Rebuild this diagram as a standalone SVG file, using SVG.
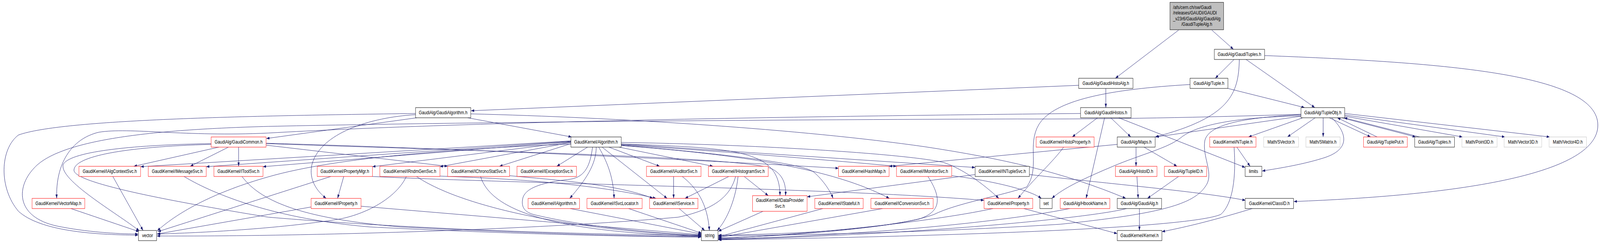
<svg xmlns="http://www.w3.org/2000/svg" width="5190" height="621" viewBox="0 0 5190 621" preserveAspectRatio="none">
<defs>
<marker id="a" markerWidth="10" markerHeight="7" refX="10" refY="3.5" orient="auto" markerUnits="userSpaceOnUse"><path d="M0,0 L10,3.5 L0,7 z" fill="#191970"/></marker>
</defs>
<style>
svg{width:100vw;height:100vh}
.n rect{fill:#fff;stroke:#000;stroke-width:1}
.red rect{stroke:#ff0000}
.gray rect{stroke:#bfbfbf}
.root rect{fill:#bfbfbf}
text{font-family:"Liberation Sans",Arial,sans-serif;font-size:13px;fill:#000;text-anchor:middle}
.l{text-anchor:start}
#edges path{fill:none;stroke:#191970;stroke-width:1;marker-end:url(#a)}
</style>
<rect width="5190" height="621" fill="#fff"/>
<g id="edges">
<path d="M3823,77 L3618,200"/>
<path d="M3931,77 L4001,126"/>
<path d="M3499,218 L1528,283"/>
<path d="M3587,226 L3587,275"/>
<path d="M4003,152 L3942,200"/>
<path d="M4042,152 L4265,275"/>
<path d="M4102,142 C4700,160 5183,190 5183,320 C5183,450 4700,500 4197,515"/>
<path d="M4020,152 C4018,240 3990,300 3747,350"/>
<path d="M3983,226 L4232,275"/>
<path d="M3860,216 C3600,228 3420,255 3370,318 C3330,370 3375,430 3330,478 C3250,500 3100,520 3030,548 C2900,585 2600,598 2330,601"/>
<path d="M1352,301 L864,354"/>
<path d="M1517,301 L1854,350"/>
<path d="M1348,290 C800,296 200,305 60,345 C0,380 -5,480 60,540 C130,590 300,600 448,601"/>
<path d="M1527,291 C2000,300 2600,330 3000,375 C3250,405 3450,440 3652,507"/>
<path d="M1348,293 C1200,300 1040,340 1012,420 C1000,460 1030,490 1058,507"/>
<path d="M3560,301 L3478,350"/>
<path d="M3583,301 L3523,507"/>
<path d="M3603,301 L3668,350"/>
<path d="M3629,301 L4039,428"/>
<path d="M3505,290 C2500,298 1500,312 870,340 C600,350 420,325 320,338 C230,355 180,420 184,507"/>
<path d="M4312,301 L4446,350"/>
<path d="M4467,350 L4338,301"/>
<path d="M4352,301 L4592,350"/>
<path d="M4605,350 L4360,301"/>
<path d="M4362,297 L4744,350"/>
<path d="M4362,294 L4882,350"/>
<path d="M4362,290 L5027,350"/>
<path d="M4292,301 L4292,350"/>
<path d="M4266,301 L4176,350"/>
<path d="M4226,301 L4050,350"/>
<path d="M4320,301 C4370,340 4380,380 4300,402 C4230,420 4150,430 4094,437"/>
<path d="M4220,297 L3749,350"/>
<path d="M4220,293 C4050,300 3920,315 3908,360 C3900,400 3935,440 3915,470 C3880,520 3780,545 3440,573 C3000,595 2600,600 2330,603"/>
<path d="M4220,296 C4000,300 3880,320 3830,352 C3790,378 3700,395 3610,425 C3520,455 3450,480 3412,507"/>
<path d="M4220,292 C3900,300 3600,305 3300,304 C2500,306 1500,312 870,323 C550,330 200,350 110,430 C50,480 50,560 200,580 C300,595 400,598 448,598"/>
<path d="M3624,369 L2884,425"/>
<path d="M3685,376 L3685,425"/>
<path d="M3711,376 L3818,425"/>
<path d="M710,376 L434,425"/>
<path d="M741,376 L617,425"/>
<path d="M774,376 L774,425"/>
<path d="M863,371 L1452,425"/>
<path d="M685,367 C450,370 230,385 205,420 C190,460 380,545 452,590"/>
<path d="M685,369 C400,375 240,400 240,435 C240,470 600,520 870,555 C1400,590 2000,600 2274,602"/>
<path d="M863,366 C1500,380 2300,410 2720,430"/>
<path d="M863,367 C1500,385 2400,400 2500,430 C2540,445 2550,470 2548,500"/>
<path d="M1852,360 L456,426"/>
<path d="M1852,361 L669,426"/>
<path d="M1852,362 L853,426"/>
<path d="M1852,363 L1208,426"/>
<path d="M1852,364 L1427,426"/>
<path d="M1852,367 L1620,425"/>
<path d="M1852,368 C1500,380 1100,400 870,452 C700,490 580,540 510,590"/>
<path d="M1906,376 L1806,425"/>
<path d="M1934,376 C1934,420 1900,460 1848,507"/>
<path d="M1942,376 C1975,420 1990,460 1992,507"/>
<path d="M1953,376 L2164,507"/>
<path d="M1975,376 L2140,425"/>
<path d="M2008,376 L2313,425"/>
<path d="M1922,376 C1915,420 1900,452 1850,458 C1760,466 1700,480 1695,510 C1690,535 1710,545 1740,550 C1900,580 2150,598 2274,601"/>
<path d="M2015,368 C2400,378 2530,385 2530,500"/>
<path d="M2015,370 C2400,390 2700,410 2908,425"/>
<path d="M2015,368 L3163,428"/>
<path d="M2015,371 C2300,390 2600,415 2640,440 C2670,460 2695,490 2702,507"/>
<path d="M2015,372 C2400,395 2700,430 2885,507"/>
<path d="M2015,364 C2500,370 2950,395 3060,415 C3120,430 3190,470 3240,507"/>
<path d="M3450,376 C3420,410 3350,460 3302,507"/>
<path d="M4012,376 L4055,425"/>
<path d="M4003,376 C4010,450 4000,520 3960,548 C3850,585 3000,605 2330,613"/>
<path d="M1115,451 L1095,507"/>
<path d="M1073,451 L512,592"/>
<path d="M1208,451 C1700,470 2700,480 3192,512"/>
<path d="M1427,450 C1600,455 1900,465 2128,507"/>
<path d="M1351,451 C1480,520 1800,585 2274,603"/>
<path d="M1318,451 C1290,500 1200,545 1100,560 C900,585 650,595 509,598"/>
<path d="M1653,449 C1800,460 2000,470 2118,507"/>
<path d="M1559,451 C1600,560 1900,595 2274,604"/>
<path d="M2185,451 L2185,507"/>
<path d="M2213,451 C2260,480 2295,520 2301,589"/>
<path d="M2364,451 L2222,507"/>
<path d="M2394,451 C2385,520 2350,570 2326,589"/>
<path d="M2414,451 L2492,500"/>
<path d="M2386,451 C2370,500 2320,535 2200,555 C1700,590 900,605 509,603"/>
<path d="M2475,540 L2330,591"/>
<path d="M2669,533 L2330,605"/>
<path d="M2863,533 L2330,607"/>
<path d="M3010,451 C3050,500 3060,540 2980,560 C2800,590 2500,605 2330,608"/>
<path d="M3087,449 C3180,458 3330,480 3378,507"/>
<path d="M3221,533 C3000,570 2600,600 2330,610"/>
<path d="M3321,533 L3624,597"/>
<path d="M3470,533 C3200,575 2700,605 2330,611"/>
<path d="M3696,533 L3696,589"/>
<path d="M3654,533 C3550,555 3000,600 2330,612"/>
<path d="M4062,533 C3950,560 3850,580 3769,592"/>
<path d="M3688,451 L3692,507"/>
<path d="M3823,451 L3722,507"/>
<path d="M3163,446 L2618,503"/>
<path d="M3339,446 C3600,470 3900,490 4040,512"/>
<path d="M366,451 L464,589"/>
<path d="M597,451 C700,500 900,560 1200,580 C1700,600 2100,605 2274,606"/>
<path d="M785,451 C850,520 1000,560 1300,580 C1800,600 2150,604 2274,605"/>
<path d="M230,533 L451,592"/>
<path d="M1171,527 L2275,600"/>
<path d="M1009,529 L510,598"/>
<path d="M2039,533 L2276,596"/>
<path d="M1850,533 L2275,598"/>
<path d="M2203,533 L2286,589"/>
</g>
<g id="n_root" class="n root"><rect x="3795" y="6" width="174" height="70"/><text class="l" x="3805" y="23">/afs/cern.ch/sw/Gaudi</text><text class="l" x="3805" y="37.5">/releases/GAUDI/GAUDI</text><text class="l" x="3805" y="52">_v23r6/GaudiAlg/GaudiAlg</text><text x="3882" y="66.5">/GaudiTupleAlg.h</text></g>
<g id="n_gaudituples" class="n"><rect x="3939" y="126" width="163" height="26"/><text x="4020.5" y="143.5">GaudiAlg/GaudiTuples.h</text></g>
<g id="n_gaudihistoalg" class="n"><rect x="3499" y="200" width="176" height="26"/><text x="3587" y="217.5">GaudiAlg/GaudiHistoAlg.h</text></g>
<g id="n_tuple" class="n"><rect x="3860" y="200" width="123" height="26"/><text x="3921.5" y="217.5">GaudiAlg/Tuple.h</text></g>
<g id="n_gaudihistos" class="n"><rect x="3505" y="275" width="164" height="26"/><text x="3587" y="292.5">GaudiAlg/GaudiHistos.h</text></g>
<g id="n_tupleobj" class="n"><rect x="4220" y="275" width="142" height="26"/><text x="4291" y="292.5">GaudiAlg/TupleObj.h</text></g>
<g id="n_gaudialgorithm" class="n"><rect x="1348" y="275" width="179" height="26"/><text x="1437.5" y="292.5">GaudiAlg/GaudiAlgorithm.h</text></g>
<g id="n_gaudicommon" class="n red"><rect x="685" y="350" width="178" height="26"/><text x="774" y="367.5">GaudiAlg/GaudiCommon.h</text></g>
<g id="n_algorithm" class="n"><rect x="1852" y="350" width="163" height="26"/><text x="1933.5" y="367.5">GaudiKernel/Algorithm.h</text></g>
<g id="n_histoproperty" class="n red"><rect x="3361" y="350" width="188" height="26"/><text x="3455" y="367.5">GaudiKernel/HistoProperty.h</text></g>
<g id="n_maps" class="n"><rect x="3624" y="350" width="123" height="26"/><text x="3685.5" y="367.5">GaudiAlg/Maps.h</text></g>
<g id="n_ntuple" class="n red"><rect x="3924" y="350" width="150" height="26"/><text x="3999" y="367.5">GaudiKernel/NTuple.h</text></g>
<g id="n_svector" class="n gray"><rect x="4099" y="350" width="113" height="26"/><text x="4155.5" y="367.5">Math/SVector.h</text></g>
<g id="n_smatrix" class="n gray"><rect x="4236" y="350" width="111" height="26"/><text x="4291.5" y="367.5">Math/SMatrix.h</text></g>
<g id="n_tupleput" class="n red"><rect x="4423" y="350" width="142" height="26"/><text x="4494" y="367.5">GaudiAlg/TuplePut.h</text></g>
<g id="n_tuples" class="n"><rect x="4589" y="350" width="129" height="26"/><text x="4653.5" y="367.5">GaudiAlg/Tuples.h</text></g>
<g id="n_point3d" class="n gray"><rect x="4742" y="350" width="114" height="26"/><text x="4799" y="367.5">Math/Point3D.h</text></g>
<g id="n_vector3d" class="n gray"><rect x="4879" y="350" width="122" height="26"/><text x="4940" y="367.5">Math/Vector3D.h</text></g>
<g id="n_vector4d" class="n gray"><rect x="5025" y="350" width="121" height="26"/><text x="5085.5" y="367.5">Math/Vector4D.h</text></g>
<g id="n_ialgcontextsvc" class="n red"><rect x="256" y="425" width="200" height="26"/><text x="356" y="442.5">GaudiKernel/IAlgContextSvc.h</text></g>
<g id="n_imessagesvc" class="n red"><rect x="481" y="425" width="188" height="26"/><text x="575" y="442.5">GaudiKernel/IMessageSvc.h</text></g>
<g id="n_itoolsvc" class="n red"><rect x="694" y="425" width="159" height="26"/><text x="773.5" y="442.5">GaudiKernel/IToolSvc.h</text></g>
<g id="n_propertymgr" class="n red"><rect x="1029" y="425" width="179" height="26"/><text x="1118.5" y="442.5">GaudiKernel/PropertyMgr.h</text></g>
<g id="n_irndmgensvc" class="n red"><rect x="1232" y="425" width="195" height="26"/><text x="1329.5" y="442.5">GaudiKernel/IRndmGenSvc.h</text></g>
<g id="n_ichronostatsvc" class="n red"><rect x="1452" y="425" width="201" height="26"/><text x="1552.5" y="442.5">GaudiKernel/IChronoStatSvc.h</text></g>
<g id="n_iexceptionsvc" class="n red"><rect x="1677" y="425" width="193" height="26"/><text x="1773.5" y="442.5">GaudiKernel/IExceptionSvc.h</text></g>
<g id="n_iauditorsvc" class="n red"><rect x="2097" y="425" width="177" height="26"/><text x="2185.5" y="442.5">GaudiKernel/IAuditorSvc.h</text></g>
<g id="n_ihistogramsvc" class="n red"><rect x="2298" y="425" width="194" height="26"/><text x="2395" y="442.5">GaudiKernel/IHistogramSvc.h</text></g>
<g id="n_hashmap" class="n red"><rect x="2720" y="425" width="164" height="26"/><text x="2802" y="442.5">GaudiKernel/HashMap.h</text></g>
<g id="n_imonitorsvc" class="n red"><rect x="2908" y="425" width="179" height="26"/><text x="2997.5" y="442.5">GaudiKernel/IMonitorSvc.h</text></g>
<g id="n_intuplesvc" class="n"><rect x="3163" y="425" width="176" height="26"/><text x="3251" y="442.5">GaudiKernel/INTupleSvc.h</text></g>
<g id="n_histoid" class="n red"><rect x="3618" y="425" width="135" height="26"/><text x="3685.5" y="442.5">GaudiAlg/HistoID.h</text></g>
<g id="n_tupleid" class="n red"><rect x="3777" y="425" width="137" height="26"/><text x="3845.5" y="442.5">GaudiAlg/TupleID.h</text></g>
<g id="n_limits" class="n"><rect x="4039" y="425" width="54" height="26"/><text x="4066" y="442.5">limits</text></g>
<g id="n_vectormap" class="n red"><rect x="104" y="507" width="171" height="26"/><text x="189.5" y="524.5">GaudiKernel/VectorMap.h</text></g>
<g id="n_iproperty" class="n red"><rect x="1009" y="507" width="162" height="26"/><text x="1090" y="524.5">GaudiKernel/IProperty.h</text></g>
<g id="n_ialgorithm" class="n red"><rect x="1713" y="507" width="167" height="26"/><text x="1796.5" y="524.5">GaudiKernel/IAlgorithm.h</text></g>
<g id="n_isvclocator" class="n red"><rect x="1904" y="507" width="179" height="26"/><text x="1993.5" y="524.5">GaudiKernel/ISvcLocator.h</text></g>
<g id="n_iservice" class="n red"><rect x="2107" y="507" width="157" height="26"/><text x="2185.5" y="524.5">GaudiKernel/IService.h</text></g>
<g id="n_idataprovidersvc" class="n red"><rect x="2441" y="500" width="177" height="40"/><text class="l" x="2452" y="516">GaudiKernel/IDataProvider</text><text x="2529.5" y="531">Svc.h</text></g>
<g id="n_istateful" class="n red"><rect x="2643" y="507" width="157" height="26"/><text x="2721.5" y="524.5">GaudiKernel/IStateful.h</text></g>
<g id="n_iconversionsvc" class="n red"><rect x="2825" y="507" width="202" height="26"/><text x="2926" y="524.5">GaudiKernel/IConversionSvc.h</text></g>
<g id="n_property" class="n red"><rect x="3192" y="507" width="158" height="26"/><text x="3271" y="524.5">GaudiKernel/Property.h</text></g>
<g id="n_set" class="n"><rect x="3373" y="507" width="40" height="26"/><text x="3393" y="524.5">set</text></g>
<g id="n_hbookname" class="n red"><rect x="3439" y="507" width="161" height="26"/><text x="3519.5" y="524.5">GaudiAlg/HbookName.h</text></g>
<g id="n_gaudialg" class="n"><rect x="3624" y="507" width="144" height="26"/><text x="3696" y="524.5">GaudiAlg/GaudiAlg.h</text></g>
<g id="n_classid" class="n"><rect x="4039" y="507" width="157" height="26"/><text x="4117.5" y="524.5">GaudiKernel/ClassID.h</text></g>
<g id="n_vector" class="n"><rect x="449" y="589" width="59" height="26"/><text x="478.5" y="606.5">vector</text></g>
<g id="n_string" class="n"><rect x="2275" y="589" width="54" height="26"/><text x="2302" y="606.5">string</text></g>
<g id="n_kernel" class="n"><rect x="3624" y="589" width="145" height="26"/><text x="3696.5" y="606.5">GaudiKernel/Kernel.h</text></g>
</svg>
